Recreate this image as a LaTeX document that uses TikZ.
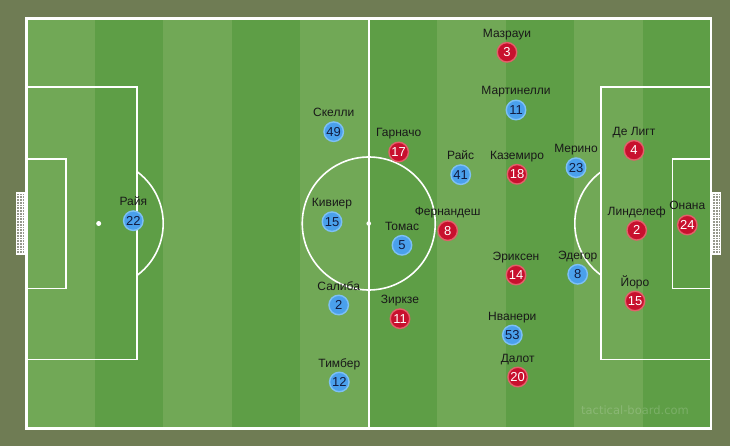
\documentclass[tikz,border=0pt]{standalone}
\usepackage{fontspec}
\setmainfont{Liberation Sans}
\newfontfamily\wmfont{DejaVu Sans}
\definecolor{bgc}{RGB}{111,124,84}
\definecolor{lightg}{RGB}{113,168,86}
\definecolor{darkg}{RGB}{94,158,70}
\definecolor{blueP}{RGB}{74,160,236}
\definecolor{blueH}{RGB}{125,192,246}
\definecolor{navyT}{RGB}{18,28,64}
\definecolor{redP}{RGB}{200,16,46}
\definecolor{redH}{RGB}{226,96,106}
\definecolor{netg}{RGB}{150,152,140}
\tikzset{
  fline/.style={draw=white, line width=1.6pt},
  oline/.style={draw=white, line width=2.6pt},
  bluepl/.style={circle, fill=blueP, draw=blueH, line width=1.4pt, minimum size=19.5pt, inner sep=0pt, text=navyT, font=\fontsize{13}{13}\selectfont},
  redpl/.style={circle, fill=redP, draw=redH, line width=1.4pt, minimum size=19.5pt, inner sep=0pt, text=white, font=\fontsize{13}{13}\selectfont},
  lbl/.style={inner sep=0pt, text=black!90, font=\fontsize{12}{12}\selectfont, anchor=base},
}
\newcommand\pl[6]{\node[#1] (#2) at (#3,#4) {#5}; \node[lbl] (#2l) at (#3,#4-15) {#6};}
\begin{document}
\begin{tikzpicture}[x=1pt,y=-1pt]
\useasboundingbox (0,0) rectangle (730,446);
\fill[bgc] (0,0) rectangle (730,446);
% stripes
\foreach \i in {0,...,9} {
  \pgfmathsetmacro\xa{26.5+68.45*\i}
  \pgfmathsetmacro\xb{26.5+68.45*(\i+1)}
  \pgfmathparse{mod(\i,2)==0 ? 1 : 0}
  \ifnum\pgfmathresult=1
    \fill[lightg] (\xa,18.5) rectangle (\xb,428.5);
  \else
    \fill[darkg] (\xa,18.5) rectangle (\xb,428.5);
  \fi
}
% goals
\foreach \gx in {16.5,712.5} {
  \fill[netg] (\gx,193) rectangle (\gx+8,254.5);
  \foreach \k in {1,...,2} \draw[white, line width=0.7pt] (\gx+2.7*\k,193) -- (\gx+2.7*\k,254.5);
  \foreach \k in {1,...,22} \draw[white, line width=0.7pt] (\gx,193+2.75*\k) -- (\gx+8,193+2.75*\k);
  \draw[white, line width=1.1pt] (\gx,193) rectangle (\gx+8,254.5);
}
% markings
\draw[fline] (368.75,18.5) -- (368.75,428.5);
\draw[fline] (368.75,223.5) circle (66.5);
\fill[white] (368.75,223.5) circle (2.3);
\draw[fline] (26.5,87) rectangle (136.7,359.5);
\draw[fline] (26.5,159) rectangle (65.7,288.3);
\draw[fline] (711,87) rectangle (600.7,359.5);
\draw[fline] (711,159) rectangle (672.3,288.3);
\fill[white] (98.7,223.5) circle (2.5);
\fill[white] (638.8,223.5) circle (2.5);
\begin{scope}
  \clip (136.7,0) rectangle (300,446);
  \draw[fline] (98.7,223.5) circle (64.5);
\end{scope}
\begin{scope}
  \clip (450,0) rectangle (600.7,446);
  \draw[fline] (638.8,223.5) circle (64);
\end{scope}
\draw[oline] (26.5,18.5) rectangle (711,428.5);
% watermark
\node[text=white, opacity=0.18, font=\wmfont\fontsize{11.5}{11.5}\selectfont, inner sep=0pt] (wm) at (635,410.5) {tactical-board.com};
% blue players
\pl{bluepl}{raya}{133.3}{220.7}{22}{Райя}
\pl{bluepl}{skelly}{333.7}{131.7}{49}{Скелли}
\pl{bluepl}{kiv}{332}{221.7}{15}{Кивиер}
\pl{bluepl}{sal}{338.7}{305}{2}{Салиба}
\pl{bluepl}{tim}{339.3}{382}{12}{Тимбер}
\pl{bluepl}{tom}{402}{245.3}{5}{Томас}
\pl{bluepl}{rais}{460.7}{174.7}{41}{Райс}
\pl{bluepl}{mart}{516}{110}{11}{Мартинелли}
\pl{bluepl}{mer}{576}{167.7}{23}{Мерино}
\pl{bluepl}{ode}{577.7}{274.3}{8}{Эдегор}
\pl{bluepl}{nwa}{512.3}{335}{53}{Нванери}
% red players
\pl{redpl}{maz}{507}{52.3}{3}{Мазрауи}
\pl{redpl}{gar}{398.7}{152}{17}{Гарначо}
\pl{redpl}{kaz}{517}{174.3}{18}{Каземиро}
\pl{redpl}{del}{634}{150.3}{4}{Де Лигт}
\pl{redpl}{fer}{447.7}{230.7}{8}{Фернандеш}
\pl{redpl}{lin}{636.7}{230.3}{2}{Линделеф}
\pl{redpl}{ona}{687.3}{225}{24}{Онана}
\pl{redpl}{eri}{516}{275}{14}{Эриксен}
\pl{redpl}{yor}{635}{301}{15}{Йоро}
\pl{redpl}{zir}{400}{318.7}{11}{Зиркзе}
\pl{redpl}{dal}{517.7}{377}{20}{Далот}
\end{tikzpicture}
\end{document}
